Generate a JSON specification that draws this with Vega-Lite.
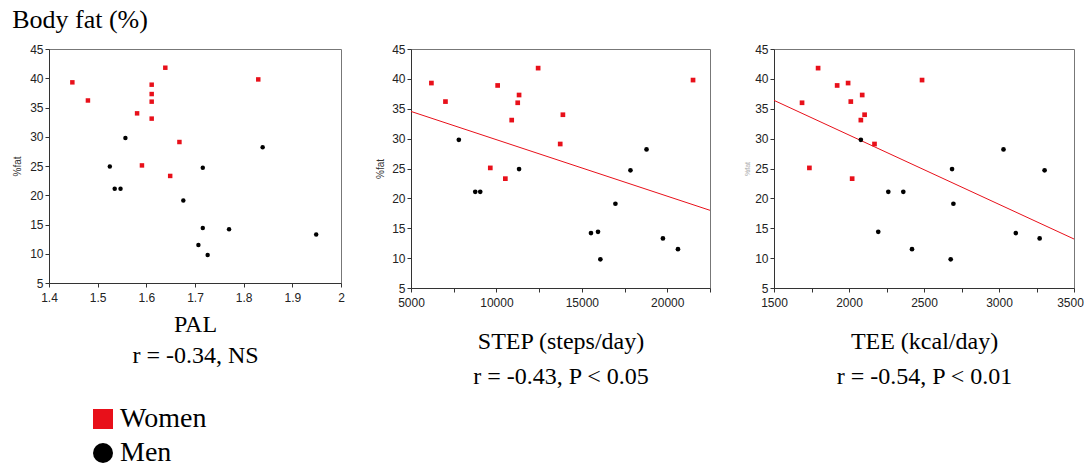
{
  "$schema": "https://vega.github.io/schema/vega-lite/v6.json",
  "padding": {"left": 12, "top": 6, "right": 0, "bottom": 4},
  "background": "white",
  "title": {"text": "Body fat (%)", "anchor": "start", "font": "Liberation Serif", "fontSize": 26, "fontWeight": "normal", "color": "#000", "offset": 10},
  "datasets": {
    "subjects": [
      {"sex": "Women", "pal": 1.448, "step": 6194, "tee": 1994, "fat": 39.3},
      {"sex": "Women", "pal": 1.480, "step": 7017, "tee": 2012, "fat": 36.2},
      {"sex": "Women", "pal": 1.639, "step": 12441, "tee": 1794, "fat": 41.8},
      {"sex": "Women", "pal": 1.611, "step": 10071, "tee": 1921, "fat": 38.9},
      {"sex": "Women", "pal": 1.611, "step": 11325, "tee": 2088, "fat": 37.3},
      {"sex": "Women", "pal": 1.611, "step": 11246, "tee": 1687, "fat": 36.0},
      {"sex": "Women", "pal": 1.611, "step": 10894, "tee": 2079, "fat": 33.1},
      {"sex": "Women", "pal": 1.581, "step": 13890, "tee": 2104, "fat": 34.0},
      {"sex": "Women", "pal": 1.668, "step": 13733, "tee": 2170, "fat": 29.1},
      {"sex": "Women", "pal": 1.591, "step": 9641, "tee": 1736, "fat": 25.1},
      {"sex": "Women", "pal": 1.649, "step": 10522, "tee": 2021, "fat": 23.3},
      {"sex": "Women", "pal": 1.830, "step": 21507, "tee": 2487, "fat": 39.8},
      {"sex": "Men", "pal": 1.557, "step": 7800, "tee": 2079, "fat": 29.8},
      {"sex": "Men", "pal": 1.535, "step": 8760, "tee": 2262, "fat": 21.1},
      {"sex": "Men", "pal": 1.547, "step": 9053, "tee": 2362, "fat": 21.1},
      {"sex": "Men", "pal": 1.525, "step": 11325, "tee": 2687, "fat": 24.9},
      {"sex": "Men", "pal": 1.716, "step": 17845, "tee": 3304, "fat": 24.7},
      {"sex": "Men", "pal": 1.839, "step": 18785, "tee": 3030, "fat": 28.2},
      {"sex": "Men", "pal": 1.676, "step": 16964, "tee": 2696, "fat": 19.1},
      {"sex": "Men", "pal": 1.716, "step": 15946, "tee": 2195, "fat": 14.4},
      {"sex": "Men", "pal": 1.770, "step": 15534, "tee": 3112, "fat": 14.2},
      {"sex": "Men", "pal": 1.726, "step": 16083, "tee": 2678, "fat": 9.8},
      {"sex": "Men", "pal": 1.949, "step": 19744, "tee": 3271, "fat": 13.3},
      {"sex": "Men", "pal": 1.707, "step": 20625, "tee": 2420, "fat": 11.5}
    ],
    "step_fit": [{"step": 5000, "fat": 34.55}, {"step": 22500, "fat": 18.0}],
    "tee_fit": [{"tee": 1500, "fat": 36.4}, {"tee": 3500, "fat": 13.2}]
  },
  "spacing": 30,
  "bounds": "full",
  "hconcat": [
    {
      "width": 292,
      "height": 234,
      "data": {"name": "subjects"},
      "mark": {"type": "point", "filled": true, "opacity": 1, "size": 20},
      "encoding": {
        "x": {"field": "pal", "type": "quantitative", "scale": {"domain": [1.4, 2.0], "nice": false, "zero": false},
              "axis": {"values": [1.4, 1.5, 1.6, 1.7, 1.8, 1.9, 2.0], "format": ".1~f", "title": ["PAL", "r = -0.34, NS"], "titlePadding": 9, "titleLineHeight": 31}},
        "y": {"field": "fat", "type": "quantitative", "scale": {"domain": [5, 45], "nice": false, "zero": false},
              "axis": {"values": [5, 10, 15, 20, 25, 30, 35, 40, 45], "title": "%fat", "titlePadding": 7}},
        "color": {"field": "sex", "type": "nominal", "scale": {"domain": ["Women", "Men"], "range": ["#e8101a", "#000000"]},
                  "legend": {"orient": "none", "legendX": 40, "legendY": 356, "title": null}},
        "shape": {"field": "sex", "type": "nominal", "scale": {"domain": ["Women", "Men"], "range": ["square", "circle"]},
                  "legend": {"orient": "none", "legendX": 40, "legendY": 356, "title": null}}
      }
    },
    {
      "width": 299,
      "height": 239,
      "layer": [
        {
          "data": {"name": "step_fit"},
          "mark": {"type": "line", "color": "#e8101a", "strokeWidth": 1},
          "encoding": {
            "x": {"field": "step", "type": "quantitative"},
            "y": {"field": "fat", "type": "quantitative"}
          }
        },
        {
          "data": {"name": "subjects"},
          "mark": {"type": "point", "filled": true, "opacity": 1, "size": 22},
          "encoding": {
            "x": {"field": "step", "type": "quantitative"},
            "y": {"field": "fat", "type": "quantitative"},
            "color": {"field": "sex", "type": "nominal"},
            "shape": {"field": "sex", "type": "nominal"}
          }
        }
      ],
      "encoding": {
        "x": {"field": "step", "type": "quantitative", "scale": {"domain": [5000, 22500], "nice": false, "zero": false},
              "axis": {"values": [5000, 7500, 10000, 12500, 15000, 17500, 20000, 22500], "labelExpr": "datum.value % 5000 === 0 ? '' + datum.value : ''", "title": ["STEP (steps/day)", "r = -0.43, P < 0.05"], "titlePadding": 21, "titleLineHeight": 35}},
        "y": {"field": "fat", "type": "quantitative", "scale": {"domain": [5, 45], "nice": false, "zero": false},
              "axis": {"values": [5, 10, 15, 20, 25, 30, 35, 40, 45], "title": "%fat", "titlePadding": 6}}
      }
    },
    {
      "width": 300,
      "height": 239,
      "layer": [
        {
          "data": {"name": "tee_fit"},
          "mark": {"type": "line", "color": "#e8101a", "strokeWidth": 1},
          "encoding": {
            "x": {"field": "tee", "type": "quantitative"},
            "y": {"field": "fat", "type": "quantitative"}
          }
        },
        {
          "data": {"name": "subjects"},
          "mark": {"type": "point", "filled": true, "opacity": 1, "size": 22},
          "encoding": {
            "x": {"field": "tee", "type": "quantitative"},
            "y": {"field": "fat", "type": "quantitative"},
            "color": {"field": "sex", "type": "nominal"},
            "shape": {"field": "sex", "type": "nominal"}
          }
        }
      ],
      "encoding": {
        "x": {"field": "tee", "type": "quantitative", "scale": {"domain": [1500, 3500], "nice": false, "zero": false},
              "axis": {"values": [1500, 1750, 2000, 2250, 2500, 2750, 3000, 3250, 3500], "labelExpr": "datum.value % 500 === 0 ? '' + datum.value : ''",
                       "labelOffset": {"condition": {"test": "datum.value === 3500", "value": -4}, "value": 0},
                       "title": ["TEE (kcal/day)", "r = -0.54, P < 0.01"], "titlePadding": 21, "titleLineHeight": 35}},
        "y": {"field": "fat", "type": "quantitative", "scale": {"domain": [5, 45], "nice": false, "zero": false},
              "axis": {"values": [5, 10, 15, 20, 25, 30, 35, 40, 45], "title": "%fat", "titleColor": "#aaaaaa", "titleFontSize": 7, "titlePadding": 4}}
      }
    }
  ],
  "config": {
    "view": {"stroke": "#777777", "strokeWidth": 1},
    "axis": {
      "grid": false,
      "labelFont": "Liberation Sans",
      "labelFontSize": 12,
      "labelColor": "#222222",
      "labelFlush": false,
      "labelOverlap": false,
      "labelPadding": 2,
      "domainColor": "#333333",
      "tickColor": "#333333",
      "tickSize": 4,
      "titleFont": "Liberation Serif",
      "titleFontSize": 24,
      "titleFontWeight": "normal",
      "titleColor": "#000000"
    },
    "axisX": {"labelPadding": 5},
    "axisY": {
      "titleFont": "Liberation Sans",
      "titleFontSize": 10,
      "titleFontWeight": "normal",
      "titleColor": "#333333",
      "titlePadding": 4
    },
    "legend": {
      "symbolSize": 400,
      "symbolStrokeWidth": 0,
      "labelFont": "Liberation Serif",
      "labelFontSize": 28,
      "labelColor": "#000000",
      "rowPadding": 6,
      "labelOffset": 3,
      "padding": 0
    }
  }
}
